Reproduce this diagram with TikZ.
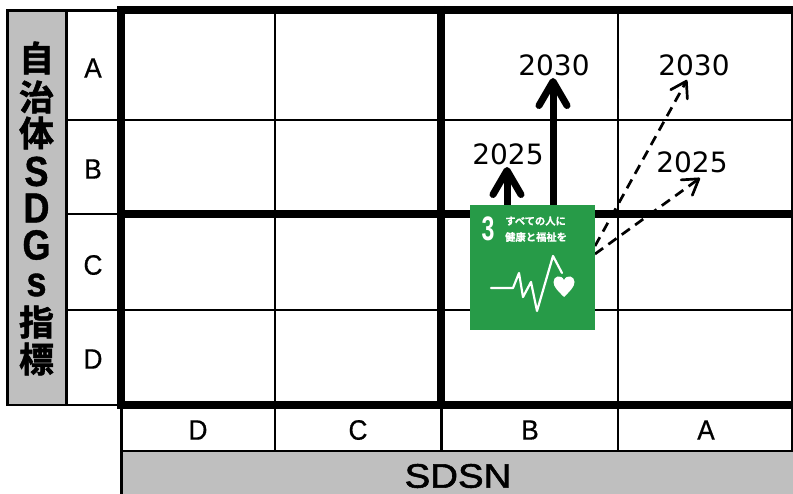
\documentclass[tikz,border=0pt]{standalone}
\usepackage{fontspec}
\setmainfont{Liberation Sans}
\newfontfamily\gradefont[FakeBold=0.6]{Liberation Sans}
\newfontfamily\sdsnfont[FakeBold=1.6]{Liberation Sans}
\newfontfamily\latinheavy[FakeBold=1.0]{Liberation Sans Bold}
\newfontfamily\cjkheavy[FakeBold=1.6]{Noto Sans CJK JP Bold}
\newfontfamily\cjkwhite[FakeBold=0.5]{Noto Sans CJK JP Bold}
\newfontfamily\yearfont{DejaVu Sans}
\usetikzlibrary{arrows.meta}
\pgfdeclarelayer{gridlayer}
\pgfdeclarelayer{arrowlayer}
\pgfsetlayers{gridlayer,arrowlayer,main}
\definecolor{sdggreen}{HTML}{279B48}
\definecolor{panelgray}{HTML}{BFBFBF}
\tikzset{
  x=1pt,y=-1pt,
  thinline/.style={draw=black,line width=2.4pt},
  thickline/.style={draw=black,line width=7.5pt},
  panel/.style={fill=panelgray,draw=black,line width=2.2pt},
  gradelabel/.style={font=\gradefont\fontsize{28}{28}\selectfont,inner sep=0pt,xscale=.94},
  yearlabel/.style={font=\yearfont\fontsize{28}{28}\selectfont,inner sep=0pt},
  vlabel/.style={font=\cjkheavy\fontsize{35}{35}\selectfont,inner sep=0pt},
  vlatin/.style={font=\latinheavy\fontsize{42}{42}\selectfont,inner sep=0pt,xscale=.86},
  solidarrow/.style={line width=7pt,-{Straight Barb[length=24pt,width=28pt,line width=7pt,round]}},
  dasharrow/.style={line width=2.7pt,dash pattern=on 10pt off 6.5pt,-{Straight Barb[length=15pt,width=19pt,line width=2.7pt,round]}},
  sdgtext/.style={text=white,inner sep=0pt},
}
\begin{document}
\begin{tikzpicture}
\useasboundingbox (0,0) rectangle (793,494);
\begin{pgfonlayer}{gridlayer}
  % side and bottom panels
  \draw[panel] (7.5,10.5) rectangle (66.5,405);
  \draw[thinline] (66.5,10.5) -- (120,10.5);
  \draw[thinline] (66.5,405) -- (120,405);
  \draw[panel] (121.5,451) rectangle (797,500);
  \draw[thinline] (121.5,405) -- (121.5,451);
  % thin grid lines
  \draw[thinline] (66.5,120) -- (793,120);
  \draw[thinline] (66.5,310) -- (793,310);
  \draw[thinline] (66.5,214) -- (120,214);
  \draw[thinline] (275,10) -- (275,451);
  \draw[thinline] (618,10) -- (618,451);
  \draw[thinline] (792,10) -- (792,451);
  \draw[thinline] (441.5,405) -- (441.5,451);
  % thick grid lines
  \draw[thickline] (117.5,10) -- (793,10);
  \draw[thickline] (117.5,214) -- (793,214);
  \draw[thickline] (117.5,405) -- (793,405);
  \draw[thickline] (121,6) -- (121,409);
  \draw[thickline] (441,6) -- (441,409);
\end{pgfonlayer}

% side labels
\node[vlabel] (v1) at (36.5,58) {自};
\node[vlabel] (v2) at (36.5,97) {治};
\node[vlabel] (v3) at (36.5,133) {体};
\node[vlatin] (v4) at (36.5,171.5) {S};
\node[vlatin] (v5) at (36.5,208) {D};
\node[vlatin] (v6) at (36.5,245) {G};
\node[vlatin] (v7) at (36.5,285) {s};
\node[vlabel] (v8) at (36.5,322) {指};
\node[vlabel] (v9) at (36.5,359) {標};

\node[gradelabel] (ra) at (93,68) {A};
\node[gradelabel] (rb) at (93,169) {B};
\node[gradelabel] (rc) at (93,265) {C};
\node[gradelabel] (rd) at (93,359) {D};
\node[gradelabel] (cd) at (198,430) {D};
\node[gradelabel] (cc) at (358,430) {C};
\node[gradelabel] (cb) at (530,430) {B};
\node[gradelabel] (ca) at (706,430) {A};
\node[font=\sdsnfont\fontsize{34}{34}\selectfont,inner sep=0pt,xscale=1.13] (sdsn) at (458,476) {SDSN};

% years
\node[yearlabel] (y1) at (554,65) {2030};
\node[yearlabel] (y2) at (508,154) {2025};
\node[yearlabel] (y3) at (694,65) {2030};
\node[yearlabel] (y4) at (692,162) {2025};

% SDG icon
\node[fill=sdggreen,minimum size=125pt,inner sep=0pt,outer sep=0pt] (goal) at (532.5,267.5) {};
\node[sdgtext,font=\bfseries\fontsize{34}{34}\selectfont,xscale=.68] (gnum) at (488,228.5) {3};
\node[sdgtext,font=\cjkwhite\fontsize{10.3}{10.3}\selectfont,anchor=west] (gt1) at (505,221) {すべての人に};
\node[sdgtext,font=\cjkwhite\fontsize{10.3}{10.3}\selectfont,anchor=west] (gt2) at (505,237) {健康と福祉を};
\draw[white,line width=2.2pt,line cap=round,line join=round]
  (491,288) -- (513,288) -- (519,273) -- (523,297) -- (531,282) -- (537,311) -- (553,256) -- (562,273);
\fill[white] (564,297) .. controls (558,291) and (553.5,287) .. (553.5,282)
  .. controls (553.5,276) and (561,274) .. (564,280)
  .. controls (567,274) and (574.5,276) .. (574.5,282)
  .. controls (574.5,287) and (570,291) .. (564,297) -- cycle;

% connectors
\coordinate (t1) at (553,78);
\coordinate (t2) at (507,167);
\coordinate (t3) at (687,80);
\coordinate (t4) at (700,178);
\begin{pgfonlayer}{arrowlayer}
  \draw[solidarrow] (goal.north -| t1) -- (t1);
  \draw[solidarrow] (goal.north -| t2) -- (t2);
  \draw[dasharrow] ([yshift=21.5pt]goal.east) -- (t3);
  \draw[dasharrow] ([yshift=13.5pt]goal.east) -- (t4);
\end{pgfonlayer}
\end{tikzpicture}
\end{document}
